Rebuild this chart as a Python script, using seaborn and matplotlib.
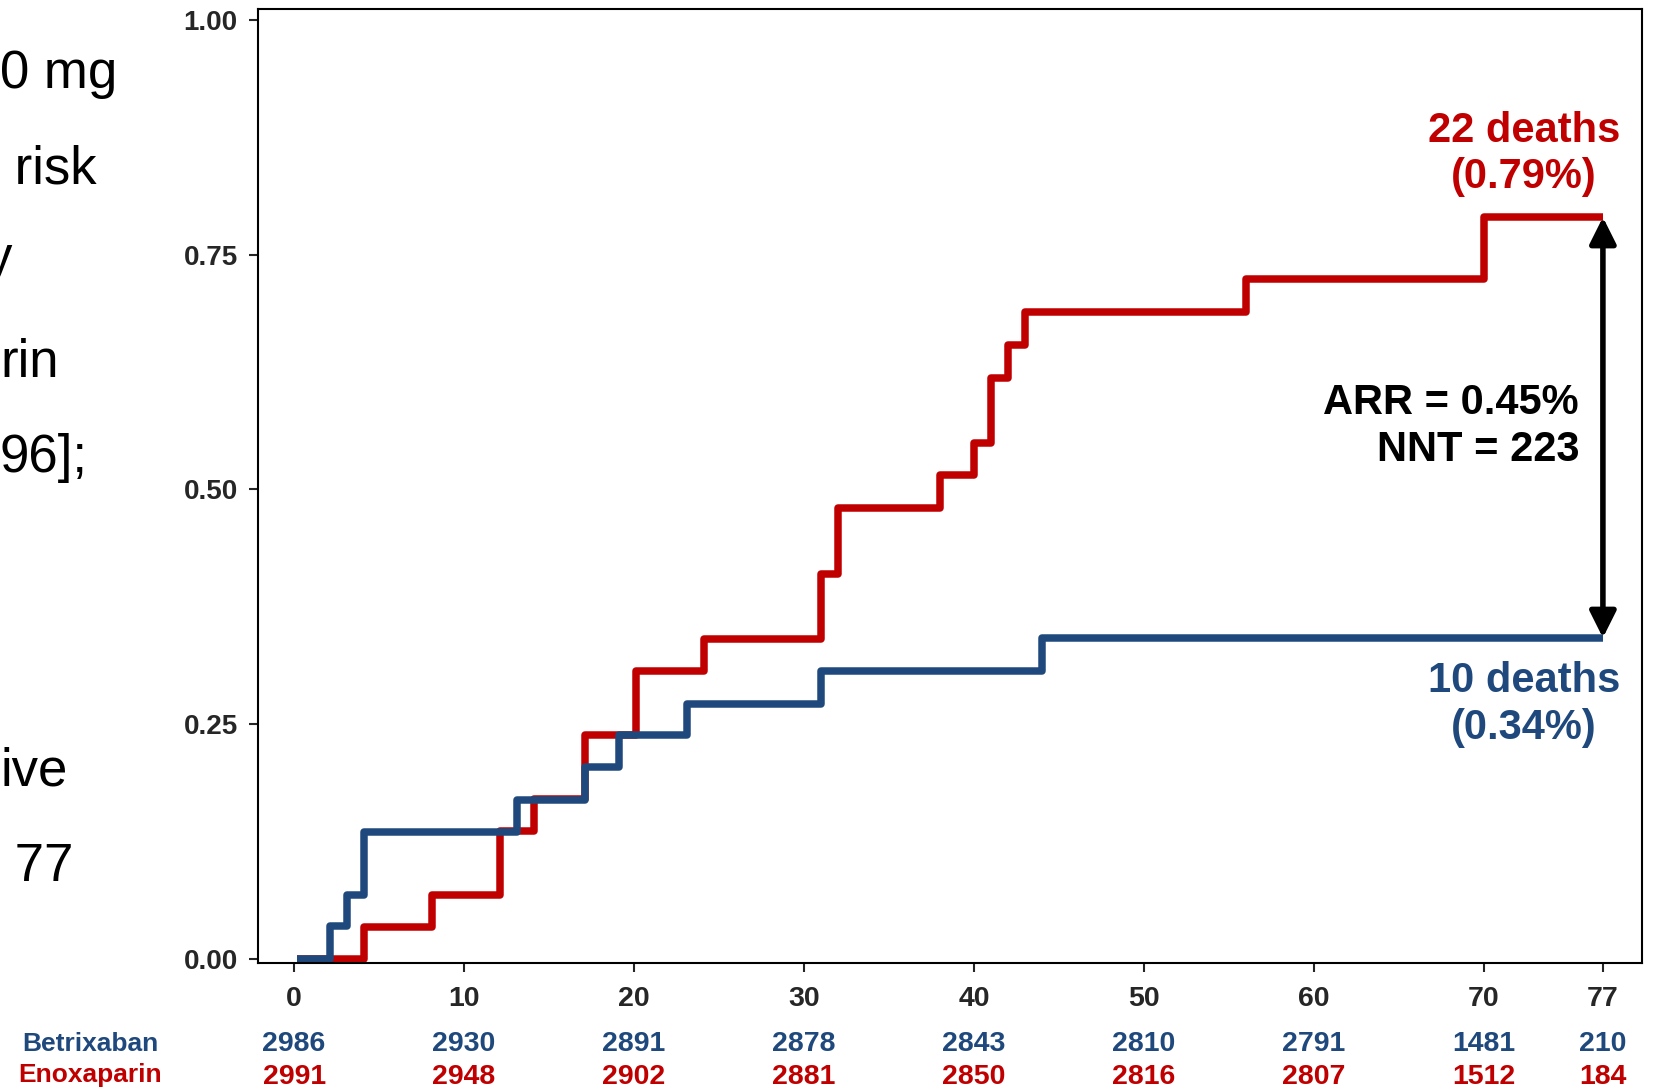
import matplotlib
matplotlib.use("Agg")
import matplotlib.pyplot as plt
import matplotlib.transforms as mtransforms
from matplotlib import font_manager as fm
import pandas as pd
import seaborn as sns

# Kaplan-Meier steps (day, cumulative mortality %)
betrix_days = [0.15, 2.1, 3.1, 4.1, 13.1, 17.1, 19.1, 23.1, 31.0, 44.0, 77.0]
betrix_pct = [0.0, 0.035, 0.068, 0.135, 0.169, 0.204, 0.238, 0.272, 0.307, 0.342, 0.342]
enox_days = [0.15, 4.1, 8.1, 12.1, 14.1, 17.1, 20.1, 24.1, 31.0, 32.0,
             38.0, 40.0, 41.0, 42.0, 43.0, 56.0, 70.0, 77.0]
enox_pct = [0.0, 0.034, 0.068, 0.136, 0.170, 0.238, 0.307, 0.341, 0.410, 0.480,
            0.515, 0.549, 0.619, 0.654, 0.689, 0.724, 0.790, 0.790]

x_ticks = [0, 10, 20, 30, 40, 50, 60, 70, 77]
y_ticks = [0.0, 0.25, 0.50, 0.75, 1.00]
betrix_at_risk = [2986, 2930, 2891, 2878, 2843, 2810, 2791, 1481, 210]
enox_at_risk = [2991, 2948, 2902, 2881, 2850, 2816, 2807, 1512, 184]

left_text = ["0 mg", " risk", "y", "rin", "96];", "ive", " 77"]

BLUE = "#1F497D"
RED = "#C00000"

sns.set_style("ticks")
plt.rcParams["font.family"] = ["Liberation Sans", "DejaVu Sans"]

names = {f.name for f in fm.fontManager.ttflist}
narrow = "Liberation Sans Narrow" if "Liberation Sans Narrow" in names else "Liberation Sans"
num_size = 23 if narrow == "Liberation Sans Narrow" else 20.5

df = pd.concat([
    pd.DataFrame({"day": enox_days, "pct": enox_pct, "arm": "Enoxaparin"}),
    pd.DataFrame({"day": betrix_days, "pct": betrix_pct, "arm": "Betrixaban"}),
])

W, H = 1658, 1088
fig = plt.figure(figsize=(W / 100, H / 100), dpi=100)
ax = fig.add_axes([257.7 / W, 1 - 963 / H, (1642 - 257.7) / W, (963 - 9.3) / H])

sns.lineplot(data=df, x="day", y="pct", hue="arm", palette={"Enoxaparin": RED, "Betrixaban": BLUE},
             hue_order=["Enoxaparin", "Betrixaban"], estimator=None, sort=False,
             drawstyle="steps-post", linewidth=5.4, legend=False, ax=ax,
             solid_joinstyle="round", solid_capstyle="butt")

ax.set_xlim(-2.14, 79.3)
ax.set_ylim(-0.0043, 1.0114)
ax.set_xlabel("")
ax.set_ylabel("")

for s in ax.spines.values():
    s.set_visible(True)
    s.set_linewidth(1.5)
    s.set_color("black")

ax.set_yticks(y_ticks)
ax.set_yticklabels([f"{v:.2f}" for v in y_ticks], fontsize=20, fontweight="bold")
ax.set_xticks(x_ticks)
ax.set_xticklabels([str(v) for v in x_ticks], family=narrow, fontsize=num_size, fontweight="bold")
ax.tick_params(axis="y", direction="out", length=6.3, width=1.5, pad=8)
ax.tick_params(axis="x", direction="out", length=6.5, width=1.5, pad=10)

# double arrow between end points
ax.annotate("", xy=(77, enox_pct[-1]), xytext=(77, betrix_pct[-1]),
            arrowprops=dict(arrowstyle="<|-|>,head_length=0.8,head_width=0.4",
                            mutation_scale=20, lw=4, color="black",
                            shrinkA=0, shrinkB=0))

ax.text(72.35, 0.857, "22 deaths\n(0.79%)", color=RED, fontsize=30, fontweight="bold",
        ha="center", va="center", linespacing=1.2)
ax.text(72.35, 0.271, "10 deaths\n(0.34%)", color=BLUE, fontsize=30, fontweight="bold",
        ha="center", va="center", linespacing=1.2)
ax.text(75.6, 0.567, "ARR = 0.45%\nNNT = 223", color="black", fontsize=30, fontweight="bold",
        ha="right", va="center", linespacing=1.2)

# numbers at risk
trans = mtransforms.blended_transform_factory(ax.transData, fig.transFigure)
for x, b, e in zip(x_ticks, betrix_at_risk, enox_at_risk):
    ax.text(x, 1 - 1044 / H, str(b), transform=trans, color=BLUE, family=narrow,
            fontsize=num_size, fontweight="bold", ha="center", va="center")
    ax.text(x, 1 - 1077 / H, str(e), transform=trans, color=RED, family=narrow,
            fontsize=num_size, fontweight="bold", ha="center", va="center")
fig.text(90 / W, 1 - 1044 / H, "Betrixaban", color=BLUE, fontsize=19, fontweight="bold",
         ha="center", va="center")
fig.text(90 / W, 1 - 1075 / H, "Enoxaparin", color=RED, fontsize=19, fontweight="bold",
         ha="center", va="center")

# clipped slide text at the left edge
left_x = [0, 0, -14, 0, 0, 0, 0]
left_y = [74, 169, 259, 363, 458, 772, 867]
for t, x, y in zip(left_text, left_x, left_y):
    fig.text(x / W, 1 - y / H, t, fontsize=38, color="black", ha="left", va="center")

fig.savefig("out.png", dpi=100)
